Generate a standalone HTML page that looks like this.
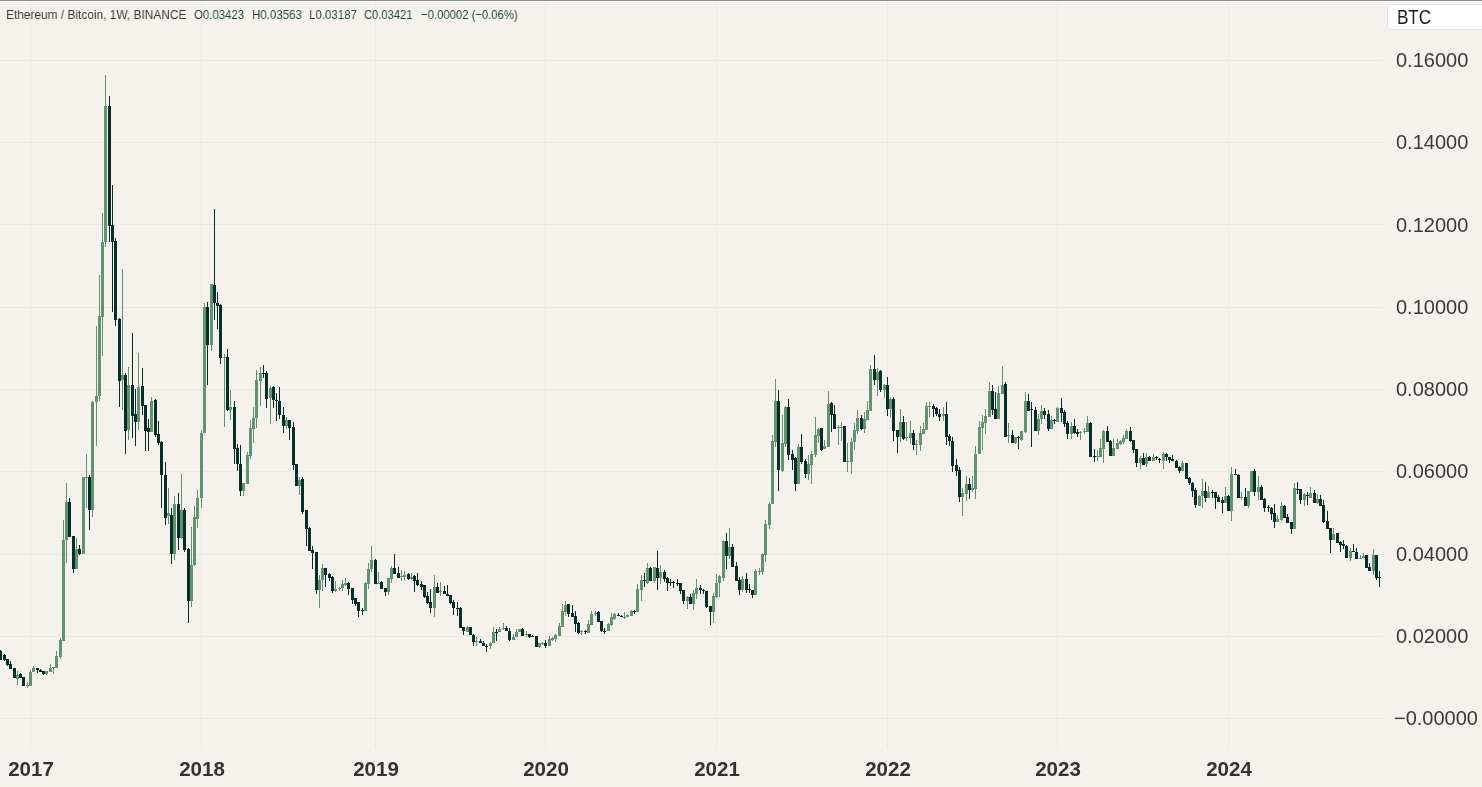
<!DOCTYPE html>
<html><head><meta charset="utf-8"><style>
html,body{margin:0;padding:0;}
body{width:1482px;height:787px;overflow:hidden;background:#f5f2ed;position:relative;font-family:"Liberation Sans",sans-serif;}
.top{position:absolute;left:0;top:0;width:1482px;height:1px;background:#8b8a90;}
.top2{position:absolute;left:0;top:1px;width:1482px;height:1px;background:#faf8f3;}
svg{position:absolute;left:0;top:0;}
.legend span{position:absolute;top:6.5px;will-change:transform;font-size:13.5px;color:#3a3a3a;white-space:nowrap;transform-origin:0 0;}
.legend b{font-weight:normal;color:#204d43;}
.px{position:absolute;left:1396px;font-size:20px;color:#3a3a3a;will-change:transform;white-space:nowrap;transform-origin:0 0;}
.yr{position:absolute;top:757px;will-change:transform;font-size:20.5px;font-weight:bold;color:#333333;width:80px;text-align:center;}
.btc{position:absolute;left:1387px;top:4px;width:110px;height:26px;background:#fff;border:1px solid #e0e3eb;border-radius:4px;box-sizing:border-box;}
.btc span{will-change:transform;position:absolute;left:9px;top:0px;font-size:20.8px;color:#131722;transform:scaleX(0.82);transform-origin:0 0;}
</style></head><body>
<svg width="1482" height="787" viewBox="0 0 1482 787" shape-rendering="crispEdges"><rect x="0" y="60" width="1383" height="1" fill="#eae8e3"/><rect x="0" y="142" width="1383" height="1" fill="#eae8e3"/><rect x="0" y="224" width="1383" height="1" fill="#eae8e3"/><rect x="0" y="307" width="1383" height="1" fill="#eae8e3"/><rect x="0" y="389" width="1383" height="1" fill="#eae8e3"/><rect x="0" y="471" width="1383" height="1" fill="#eae8e3"/><rect x="0" y="554" width="1383" height="1" fill="#eae8e3"/><rect x="0" y="636" width="1383" height="1" fill="#eae8e3"/><rect x="0" y="718" width="1383" height="1" fill="#eae8e3"/><rect x="30" y="0" width="1" height="749" fill="#eae8e3"/><rect x="201" y="0" width="1" height="749" fill="#eae8e3"/><rect x="375" y="0" width="1" height="749" fill="#eae8e3"/><rect x="545" y="0" width="1" height="749" fill="#eae8e3"/><rect x="716" y="0" width="1" height="749" fill="#eae8e3"/><rect x="887" y="0" width="1" height="749" fill="#eae8e3"/><rect x="1057" y="0" width="1" height="749" fill="#eae8e3"/><rect x="1228" y="0" width="1" height="749" fill="#eae8e3"/><path fill="#62936f" d="M17 671h1v14h-1zM16 675h3v4h-3zM27 682h1v6h-1zM26 685h3v1h-3zM30 670h1v16h-1zM29 672h3v14h-3zM33 666h1v6h-1zM32 668h3v4h-3zM46 671h1v4h-1zM45 671h3v3h-3zM50 664h1v8h-1zM49 668h3v4h-3zM53 667h1v7h-1zM52 667h3v1h-3zM56 651h1v17h-1zM55 656h3v12h-3zM60 638h1v21h-1zM59 640h3v17h-3zM63 520h1v121h-1zM62 540h3v101h-3zM66 483h1v80h-1zM65 502h3v38h-3zM76 538h1v31h-1zM75 549h3v20h-3zM83 477h1v77h-1zM82 477h3v77h-3zM86 454h1v54h-1zM85 477h3v1h-3zM92 401h1v116h-1zM91 402h3v108h-3zM96 326h1v120h-1zM95 396h3v6h-3zM99 275h1v126h-1zM98 316h3v80h-3zM102 213h1v143h-1zM101 242h3v75h-3zM105 75h1v172h-1zM104 106h3v136h-3zM122 269h1v141h-1zM121 375h3v5h-3zM128 367h1v73h-1zM127 385h3v45h-3zM138 353h1v77h-1zM137 387h3v35h-3zM151 397h1v35h-1zM150 401h3v31h-3zM168 488h1v36h-1zM167 513h3v3h-3zM174 496h1v64h-1zM173 504h3v50h-3zM181 474h1v65h-1zM180 510h3v28h-3zM191 527h1v80h-1zM190 565h3v36h-3zM194 506h1v60h-1zM193 517h3v48h-3zM197 490h1v38h-1zM196 498h3v21h-3zM201 430h1v78h-1zM200 433h3v65h-3zM204 303h1v130h-1zM203 307h3v126h-3zM211 284h1v67h-1zM210 284h3v61h-3zM224 354h1v73h-1zM223 357h3v1h-3zM230 390h1v30h-1zM229 407h3v3h-3zM243 483h1v13h-1zM242 483h3v8h-3zM247 452h1v32h-1zM246 455h3v29h-3zM250 420h1v39h-1zM249 428h3v28h-3zM253 407h1v36h-1zM252 418h3v11h-3zM256 370h1v58h-1zM255 380h3v38h-3zM260 367h1v39h-1zM259 373h3v8h-3zM270 386h1v38h-1zM269 388h3v10h-3zM286 417h1v12h-1zM285 420h3v6h-3zM299 477h1v18h-1zM298 480h3v6h-3zM319 575h1v33h-1zM318 580h3v10h-3zM322 564h1v27h-1zM321 568h3v12h-3zM335 581h1v11h-1zM334 589h3v2h-3zM339 587h1v4h-1zM338 588h3v1h-3zM342 580h1v11h-1zM341 584h3v4h-3zM345 578h1v8h-1zM344 583h3v2h-3zM365 582h1v29h-1zM364 583h3v28h-3zM368 563h1v26h-1zM367 569h3v15h-3zM371 546h1v26h-1zM370 560h3v9h-3zM378 572h1v12h-1zM377 583h3v1h-3zM388 578h1v17h-1zM387 578h3v14h-3zM391 566h1v17h-1zM390 568h3v11h-3zM401 570h1v11h-1zM400 576h3v1h-3zM404 571h1v9h-1zM403 575h3v2h-3zM411 573h1v7h-1zM410 577h3v2h-3zM434 575h1v42h-1zM433 587h3v21h-3zM440 582h1v14h-1zM439 591h3v1h-3zM467 626h1v6h-1zM466 627h3v5h-3zM476 637h1v9h-1zM475 641h3v1h-3zM490 642h1v7h-1zM489 643h3v3h-3zM493 627h1v16h-1zM492 632h3v11h-3zM499 627h1v5h-1zM498 629h3v3h-3zM503 623h1v7h-1zM502 628h3v1h-3zM513 634h1v6h-1zM512 637h3v3h-3zM516 629h1v8h-1zM515 632h3v5h-3zM519 629h1v3h-1zM518 629h3v3h-3zM526 631h1v6h-1zM525 634h3v1h-3zM539 643h1v5h-1zM538 643h3v4h-3zM542 642h1v3h-1zM541 643h3v1h-3zM549 636h1v10h-1zM548 639h3v7h-3zM552 637h1v4h-1zM551 638h3v2h-3zM555 634h1v8h-1zM554 635h3v4h-3zM559 623h1v13h-1zM558 626h3v10h-3zM562 604h1v23h-1zM561 611h3v16h-3zM565 601h1v15h-1zM564 605h3v7h-3zM581 630h1v5h-1zM580 631h3v1h-3zM588 620h1v13h-1zM587 624h3v9h-3zM591 611h1v14h-1zM590 614h3v11h-3zM595 611h1v5h-1zM594 613h3v1h-3zM608 623h1v8h-1zM607 624h3v7h-3zM611 613h1v13h-1zM610 617h3v8h-3zM614 613h1v7h-1zM613 614h3v5h-3zM624 612h1v7h-1zM623 617h3v1h-3zM627 614h1v3h-1zM626 615h3v2h-3zM631 610h1v6h-1zM630 611h3v5h-3zM637 584h1v28h-1zM636 589h3v23h-3zM641 575h1v26h-1zM640 580h3v10h-3zM647 563h1v21h-1zM646 568h3v15h-3zM654 567h1v16h-1zM653 567h3v14h-3zM660 565h1v19h-1zM659 572h3v6h-3zM687 596h1v13h-1zM686 597h3v4h-3zM693 590h1v20h-1zM692 593h3v11h-3zM696 579h1v20h-1zM695 588h3v6h-3zM713 593h1v30h-1zM712 596h3v16h-3zM716 574h1v24h-1zM715 583h3v14h-3zM719 575h1v22h-1zM718 576h3v7h-3zM723 540h1v41h-1zM722 541h3v37h-3zM729 528h1v31h-1zM728 547h3v9h-3zM742 576h1v16h-1zM741 579h3v11h-3zM755 569h1v26h-1zM754 571h3v24h-3zM759 568h1v7h-1zM758 571h3v1h-3zM762 553h1v22h-1zM761 554h3v18h-3zM765 520h1v42h-1zM764 524h3v31h-3zM769 502h1v27h-1zM768 504h3v21h-3zM772 435h1v69h-1zM771 441h3v63h-3zM775 379h1v68h-1zM774 401h3v41h-3zM782 415h1v57h-1zM781 443h3v28h-3zM785 406h1v41h-1zM784 407h3v37h-3zM798 444h1v40h-1zM797 447h3v37h-3zM808 455h1v25h-1zM807 464h3v10h-3zM811 451h1v33h-1zM810 454h3v11h-3zM815 417h1v40h-1zM814 435h3v20h-3zM818 428h1v15h-1zM817 429h3v7h-3zM824 440h1v9h-1zM823 446h3v3h-3zM828 391h1v56h-1zM827 404h3v43h-3zM838 425h1v20h-1zM837 427h3v1h-3zM841 422h1v19h-1zM840 427h3v1h-3zM847 443h1v29h-1zM846 461h3v1h-3zM851 438h1v36h-1zM850 442h3v20h-3zM854 423h1v27h-1zM853 430h3v12h-3zM857 410h1v24h-1zM856 418h3v13h-3zM864 412h1v21h-1zM863 419h3v10h-3zM867 401h1v19h-1zM866 410h3v10h-3zM870 365h1v46h-1zM869 369h3v42h-3zM877 368h1v28h-1zM876 372h3v8h-3zM884 384h1v14h-1zM883 385h3v5h-3zM890 397h1v21h-1zM889 399h3v10h-3zM900 409h1v33h-1zM899 422h3v15h-3zM906 422h1v19h-1zM905 437h3v1h-3zM910 421h1v23h-1zM909 433h3v5h-3zM916 440h1v15h-1zM915 444h3v1h-3zM920 426h1v25h-1zM919 433h3v12h-3zM923 423h1v11h-1zM922 429h3v5h-3zM926 402h1v28h-1zM925 406h3v24h-3zM929 402h1v15h-1zM928 406h3v1h-3zM943 407h1v14h-1zM942 414h3v2h-3zM962 488h1v28h-1zM961 493h3v4h-3zM966 476h1v25h-1zM965 484h3v10h-3zM972 476h1v16h-1zM971 488h3v2h-3zM975 446h1v53h-1zM974 454h3v35h-3zM979 421h1v33h-1zM978 427h3v27h-3zM982 415h1v35h-1zM981 422h3v6h-3zM985 409h1v25h-1zM984 416h3v7h-3zM989 382h1v35h-1zM988 391h3v26h-3zM998 386h1v33h-1zM997 393h3v26h-3zM1002 366h1v28h-1zM1001 385h3v9h-3zM1008 423h1v20h-1zM1007 435h3v1h-3zM1015 437h1v7h-1zM1014 437h3v6h-3zM1021 431h1v10h-1zM1020 431h3v9h-3zM1025 392h1v41h-1zM1024 401h3v31h-3zM1038 414h1v21h-1zM1037 419h3v12h-3zM1041 405h1v19h-1zM1040 411h3v8h-3zM1051 416h1v13h-1zM1050 420h3v9h-3zM1057 407h1v15h-1zM1056 408h3v14h-3zM1071 422h1v17h-1zM1070 426h3v8h-3zM1080 431h1v9h-1zM1079 432h3v1h-3zM1084 428h1v6h-1zM1083 431h3v1h-3zM1087 416h1v16h-1zM1086 423h3v9h-3zM1097 450h1v11h-1zM1096 456h3v1h-3zM1100 439h1v18h-1zM1099 448h3v9h-3zM1103 430h1v33h-1zM1102 431h3v18h-3zM1113 439h1v17h-1zM1112 448h3v8h-3zM1117 439h1v10h-1zM1116 443h3v6h-3zM1120 440h1v5h-1zM1119 441h3v3h-3zM1123 435h1v9h-1zM1122 438h3v4h-3zM1126 429h1v10h-1zM1125 431h3v8h-3zM1140 456h1v13h-1zM1139 458h3v5h-3zM1146 453h1v14h-1zM1145 457h3v7h-3zM1153 454h1v7h-1zM1152 457h3v4h-3zM1163 452h1v17h-1zM1162 454h3v7h-3zM1182 461h1v10h-1zM1181 463h3v8h-3zM1199 495h1v11h-1zM1198 496h3v10h-3zM1202 479h1v29h-1zM1201 491h3v5h-3zM1208 486h1v12h-1zM1207 492h3v6h-3zM1225 487h1v16h-1zM1224 496h3v7h-3zM1231 467h1v54h-1zM1230 474h3v37h-3zM1241 492h1v8h-1zM1240 497h3v1h-3zM1248 491h1v17h-1zM1247 491h3v15h-3zM1251 471h1v21h-1zM1250 471h3v21h-3zM1258 476h1v24h-1zM1257 487h3v5h-3zM1277 515h1v7h-1zM1276 519h3v3h-3zM1281 502h1v19h-1zM1280 506h3v14h-3zM1294 483h1v46h-1zM1293 488h3v41h-3zM1304 493h1v13h-1zM1303 494h3v6h-3zM1310 487h1v11h-1zM1309 493h3v5h-3zM1317 494h1v10h-1zM1316 499h3v4h-3zM1333 528h1v12h-1zM1332 534h3v6h-3zM1350 548h1v13h-1zM1349 551h3v7h-3zM1360 555h1v4h-1zM1359 558h3v1h-3zM1363 553h1v5h-1zM1362 556h3v2h-3zM1373 549h1v26h-1zM1372 555h3v16h-3z"/><path fill="#072e28" d="M0 650h1v10h-1zM-1 651h3v9h-3zM4 654h1v7h-1zM3 655h3v5h-3zM7 659h1v7h-1zM6 659h3v6h-3zM10 661h1v8h-1zM9 664h3v5h-3zM14 668h1v10h-1zM13 668h3v10h-3zM20 673h1v5h-1zM19 674h3v4h-3zM23 677h1v9h-1zM22 677h3v9h-3zM37 668h1v5h-1zM36 668h3v2h-3zM40 669h1v3h-1zM39 670h3v2h-3zM43 671h1v4h-1zM42 671h3v3h-3zM69 498h1v39h-1zM68 502h3v35h-3zM73 536h1v37h-1zM72 536h3v33h-3zM79 545h1v10h-1zM78 549h3v5h-3zM89 475h1v55h-1zM88 477h3v33h-3zM109 96h1v146h-1zM108 106h3v120h-3zM112 185h1v127h-1zM111 225h3v17h-3zM115 238h1v88h-1zM114 241h3v79h-3zM119 318h1v89h-1zM118 319h3v62h-3zM125 373h1v81h-1zM124 375h3v56h-3zM132 333h1v105h-1zM131 385h3v31h-3zM135 389h1v57h-1zM134 414h3v8h-3zM142 368h1v47h-1zM141 386h3v20h-3zM145 405h1v46h-1zM144 405h3v26h-3zM148 419h1v32h-1zM147 428h3v4h-3zM155 399h1v38h-1zM154 400h3v35h-3zM158 421h1v24h-1zM157 434h3v9h-3zM161 441h1v67h-1zM160 442h3v33h-3zM165 462h1v63h-1zM164 475h3v43h-3zM171 508h1v56h-1zM170 515h3v39h-3zM178 493h1v57h-1zM177 504h3v34h-3zM184 508h1v44h-1zM183 510h3v40h-3zM188 548h1v75h-1zM187 549h3v52h-3zM207 302h1v83h-1zM206 307h3v38h-3zM214 209h1v111h-1zM213 285h3v18h-3zM217 292h1v37h-1zM216 303h3v3h-3zM220 304h1v60h-1zM219 305h3v53h-3zM227 349h1v62h-1zM226 357h3v53h-3zM234 401h1v63h-1zM233 407h3v42h-3zM237 444h1v27h-1zM236 448h3v16h-3zM240 445h1v51h-1zM239 464h3v27h-3zM263 365h1v13h-1zM262 373h3v1h-3zM266 371h1v37h-1zM265 373h3v26h-3zM273 386h1v22h-1zM272 387h3v13h-3zM276 393h1v28h-1zM275 400h3v1h-3zM279 387h1v32h-1zM278 401h3v14h-3zM283 407h1v26h-1zM282 415h3v11h-3zM289 420h1v20h-1zM288 420h3v8h-3zM293 422h1v48h-1zM292 427h3v38h-3zM296 464h1v22h-1zM295 464h3v22h-3zM302 477h1v37h-1zM301 479h3v33h-3zM306 510h1v36h-1zM305 510h3v19h-3zM309 527h1v24h-1zM308 528h3v23h-3zM312 546h1v23h-1zM311 550h3v3h-3zM316 552h1v42h-1zM315 552h3v38h-3zM325 568h1v19h-1zM324 568h3v7h-3zM329 573h1v8h-1zM328 574h3v4h-3zM332 576h1v17h-1zM331 577h3v14h-3zM348 582h1v13h-1zM347 583h3v6h-3zM352 588h1v16h-1zM351 588h3v12h-3zM355 598h1v8h-1zM354 598h3v6h-3zM358 602h1v15h-1zM357 602h3v9h-3zM362 608h1v7h-1zM361 610h3v1h-3zM375 559h1v25h-1zM374 560h3v24h-3zM381 581h1v8h-1zM380 582h3v7h-3zM385 588h1v8h-1zM384 588h3v4h-3zM394 554h1v20h-1zM393 568h3v6h-3zM398 567h1v11h-1zM397 573h3v5h-3zM408 573h1v7h-1zM407 574h3v5h-3zM414 575h1v17h-1zM413 576h3v5h-3zM417 573h1v13h-1zM416 580h3v5h-3zM421 581h1v9h-1zM420 584h3v3h-3zM424 585h1v13h-1zM423 585h3v12h-3zM427 592h1v12h-1zM426 596h3v7h-3zM430 589h1v24h-1zM429 602h3v6h-3zM437 583h1v10h-1zM436 587h3v6h-3zM444 586h1v8h-1zM443 591h3v3h-3zM447 585h1v11h-1zM446 594h3v2h-3zM450 595h1v9h-1zM449 595h3v8h-3zM453 600h1v15h-1zM452 602h3v6h-3zM457 602h1v14h-1zM456 608h3v1h-3zM460 607h1v21h-1zM459 608h3v20h-3zM463 627h1v8h-1zM462 627h3v4h-3zM470 627h1v8h-1zM469 627h3v8h-3zM473 634h1v12h-1zM472 635h3v7h-3zM480 639h1v4h-1zM479 641h3v2h-3zM483 641h1v5h-1zM482 643h3v3h-3zM486 644h1v8h-1zM485 646h3v1h-3zM496 629h1v12h-1zM495 632h3v1h-3zM506 626h1v5h-1zM505 628h3v3h-3zM509 628h1v13h-1zM508 631h3v9h-3zM522 628h1v8h-1zM521 629h3v7h-3zM529 634h1v4h-1zM528 634h3v3h-3zM532 635h1v2h-1zM531 636h3v1h-3zM536 636h1v11h-1zM535 636h3v11h-3zM545 640h1v8h-1zM544 643h3v3h-3zM568 604h1v13h-1zM567 604h3v10h-3zM572 605h1v12h-1zM571 613h3v4h-3zM575 611h1v21h-1zM574 616h3v8h-3zM578 622h1v12h-1zM577 623h3v10h-3zM585 630h1v4h-1zM584 631h3v1h-3zM598 611h1v11h-1zM597 612h3v10h-3zM601 621h1v11h-1zM600 621h3v10h-3zM604 628h1v6h-1zM603 631h3v1h-3zM618 613h1v3h-1zM617 615h3v1h-3zM621 615h1v2h-1zM620 616h3v1h-3zM634 610h1v4h-1zM633 611h3v1h-3zM644 573h1v14h-1zM643 580h3v1h-3zM650 567h1v14h-1zM649 568h3v13h-3zM657 551h1v39h-1zM656 568h3v10h-3zM664 570h1v12h-1zM663 572h3v7h-3zM667 577h1v14h-1zM666 578h3v5h-3zM670 579h1v7h-1zM669 582h3v1h-3zM673 581h1v7h-1zM672 582h3v1h-3zM677 579h1v7h-1zM676 583h3v1h-3zM680 583h1v11h-1zM679 583h3v8h-3zM683 590h1v14h-1zM682 590h3v11h-3zM690 594h1v10h-1zM689 597h3v7h-3zM700 585h1v9h-1zM699 588h3v2h-3zM703 589h1v5h-1zM702 590h3v1h-3zM706 591h1v17h-1zM705 591h3v16h-3zM710 606h1v19h-1zM709 606h3v6h-3zM726 533h1v36h-1zM725 541h3v15h-3zM732 544h1v23h-1zM731 547h3v20h-3zM736 562h1v19h-1zM735 566h3v15h-3zM739 577h1v18h-1zM738 580h3v10h-3zM746 573h1v20h-1zM745 579h3v11h-3zM749 584h1v9h-1zM748 589h3v1h-3zM752 590h1v8h-1zM751 590h3v5h-3zM778 390h1v101h-1zM777 401h3v69h-3zM788 399h1v61h-1zM787 407h3v48h-3zM792 450h1v20h-1zM791 454h3v6h-3zM795 457h1v34h-1zM794 458h3v26h-3zM801 434h1v30h-1zM800 447h3v15h-3zM805 459h1v19h-1zM804 461h3v13h-3zM821 428h1v23h-1zM820 428h3v22h-3zM831 402h1v30h-1zM830 403h3v12h-3zM834 405h1v24h-1zM833 414h3v15h-3zM844 426h1v36h-1zM843 426h3v36h-3zM861 415h1v15h-1zM860 418h3v11h-3zM874 355h1v30h-1zM873 369h3v11h-3zM880 370h1v22h-1zM879 371h3v19h-3zM887 377h1v39h-1zM886 385h3v24h-3zM893 397h1v44h-1zM892 399h3v32h-3zM897 430h1v23h-1zM896 430h3v7h-3zM903 416h1v24h-1zM902 422h3v17h-3zM913 430h1v20h-1zM912 433h3v12h-3zM933 404h1v13h-1zM932 406h3v3h-3zM936 407h1v9h-1zM935 408h3v6h-3zM939 409h1v12h-1zM938 414h3v3h-3zM946 402h1v43h-1zM945 414h3v23h-3zM949 434h1v12h-1zM948 436h3v5h-3zM952 437h1v35h-1zM951 441h3v25h-3zM956 459h1v17h-1zM955 465h3v6h-3zM959 467h1v35h-1zM958 470h3v27h-3zM969 478h1v21h-1zM968 484h3v6h-3zM992 385h1v30h-1zM991 391h3v19h-3zM995 392h1v27h-1zM994 409h3v10h-3zM1005 382h1v55h-1zM1004 384h3v53h-3zM1012 430h1v13h-1zM1011 435h3v8h-3zM1018 436h1v13h-1zM1017 437h3v1h-3zM1028 394h1v17h-1zM1027 401h3v10h-3zM1031 402h1v45h-1zM1030 409h3v1h-3zM1035 407h1v24h-1zM1034 410h3v21h-3zM1044 408h1v11h-1zM1043 411h3v4h-3zM1048 410h1v21h-1zM1047 414h3v15h-3zM1054 419h1v5h-1zM1053 420h3v1h-3zM1061 398h1v24h-1zM1060 408h3v5h-3zM1064 410h1v17h-1zM1063 412h3v12h-3zM1067 421h1v18h-1zM1066 423h3v11h-3zM1074 419h1v15h-1zM1073 426h3v7h-3zM1077 429h1v8h-1zM1076 432h3v2h-3zM1090 422h1v35h-1zM1089 423h3v34h-3zM1094 449h1v13h-1zM1093 456h3v1h-3zM1107 426h1v16h-1zM1106 431h3v11h-3zM1110 440h1v16h-1zM1109 441h3v15h-3zM1130 427h1v15h-1zM1129 431h3v10h-3zM1133 440h1v13h-1zM1132 440h3v10h-3zM1136 449h1v18h-1zM1135 449h3v14h-3zM1143 453h1v12h-1zM1142 458h3v7h-3zM1149 456h1v5h-1zM1148 457h3v4h-3zM1156 456h1v4h-1zM1155 457h3v1h-3zM1159 458h1v5h-1zM1158 459h3v1h-3zM1166 453h1v8h-1zM1165 454h3v3h-3zM1169 457h1v6h-1zM1168 457h3v3h-3zM1172 455h1v6h-1zM1171 459h3v2h-3zM1176 460h1v8h-1zM1175 461h3v7h-3zM1179 466h1v7h-1zM1178 467h3v4h-3zM1186 463h1v16h-1zM1185 463h3v16h-3zM1189 477h1v8h-1zM1188 478h3v5h-3zM1192 482h1v15h-1zM1191 483h3v8h-3zM1195 488h1v20h-1zM1194 490h3v15h-3zM1205 482h1v20h-1zM1204 491h3v7h-3zM1212 490h1v8h-1zM1211 492h3v1h-3zM1215 492h1v17h-1zM1214 492h3v6h-3zM1218 495h1v7h-1zM1217 497h3v5h-3zM1222 497h1v16h-1zM1221 500h3v3h-3zM1228 495h1v16h-1zM1227 496h3v15h-3zM1235 469h1v6h-1zM1234 474h3v1h-3zM1238 474h1v24h-1zM1237 475h3v23h-3zM1245 488h1v18h-1zM1244 497h3v9h-3zM1254 469h1v27h-1zM1253 471h3v21h-3zM1261 485h1v15h-1zM1260 487h3v13h-3zM1264 498h1v14h-1zM1263 499h3v9h-3zM1268 505h1v7h-1zM1267 507h3v1h-3zM1271 507h1v13h-1zM1270 508h3v6h-3zM1274 504h1v24h-1zM1273 513h3v9h-3zM1284 505h1v13h-1zM1283 506h3v12h-3zM1287 514h1v9h-1zM1286 517h3v6h-3zM1291 522h1v12h-1zM1290 522h3v7h-3zM1297 482h1v12h-1zM1296 489h3v1h-3zM1300 489h1v15h-1zM1299 489h3v11h-3zM1307 492h1v13h-1zM1306 495h3v1h-3zM1314 490h1v13h-1zM1313 493h3v10h-3zM1320 495h1v11h-1zM1319 499h3v7h-3zM1323 500h1v23h-1zM1322 505h3v17h-3zM1327 511h1v18h-1zM1326 521h3v8h-3zM1330 528h1v25h-1zM1329 528h3v12h-3zM1337 533h1v10h-1zM1336 533h3v10h-3zM1340 541h1v11h-1zM1339 542h3v3h-3zM1343 540h1v9h-1zM1342 544h3v2h-3zM1346 545h1v13h-1zM1345 546h3v12h-3zM1353 544h1v8h-1zM1352 551h3v1h-3zM1356 548h1v11h-1zM1355 552h3v7h-3zM1366 555h1v13h-1zM1365 555h3v13h-3zM1369 563h1v8h-1zM1368 567h3v4h-3zM1376 555h1v25h-1zM1375 555h3v23h-3zM1379 571h1v16h-1zM1378 577h3v1h-3z"/></svg>
<div class="top"></div><div class="top2"></div>
<div class="legend"><span style="left:6px;transform:scaleX(0.881)">Ethereum / Bitcoin, 1W, BINANCE</span><span style="left:194px;transform:scaleX(0.845)">O<b>0.03423</b></span><span style="left:252px;transform:scaleX(0.852)">H<b>0.03563</b></span><span style="left:309px;transform:scaleX(0.853)">L<b>0.03187</b></span><span style="left:364px;transform:scaleX(0.829)">C<b>0.03421</b></span><span style="left:421px;transform:scaleX(0.837)"><b>−0.00002 (−0.06%)</b></span></div>
<div class="btc"><span>BTC</span></div>
<div class="px" style="top:49.00px;left:1396px">0.16000</div>
<div class="px" style="top:131.25px;left:1396px">0.14000</div>
<div class="px" style="top:213.50px;left:1396px">0.12000</div>
<div class="px" style="top:295.75px;left:1396px">0.10000</div>
<div class="px" style="top:378.00px;left:1396px">0.08000</div>
<div class="px" style="top:460.25px;left:1396px">0.06000</div>
<div class="px" style="top:542.50px;left:1396px">0.04000</div>
<div class="px" style="top:624.75px;left:1396px">0.02000</div>
<div class="px" style="top:707.00px;left:1394.3px">−0.00000</div>
<div class="yr" style="left:-9.5px">2017</div>
<div class="yr" style="left:161.5px">2018</div>
<div class="yr" style="left:335.5px">2019</div>
<div class="yr" style="left:505.5px">2020</div>
<div class="yr" style="left:676.5px">2021</div>
<div class="yr" style="left:847.5px">2022</div>
<div class="yr" style="left:1017.5px">2023</div>
<div class="yr" style="left:1188.5px">2024</div>
</body></html>
